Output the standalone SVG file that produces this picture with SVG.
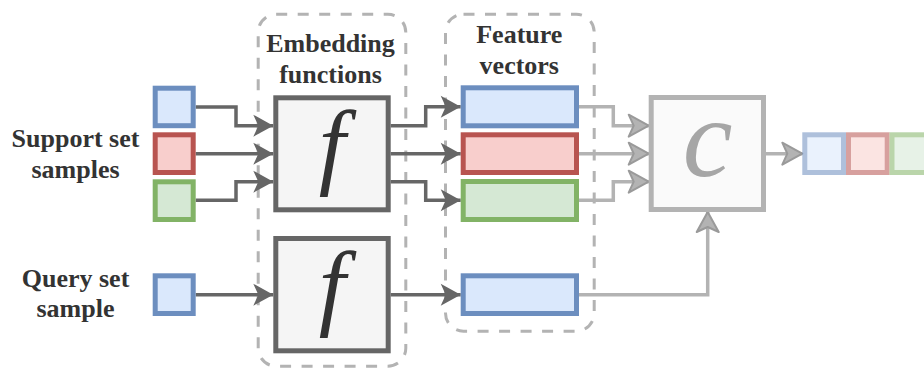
<svg xmlns="http://www.w3.org/2000/svg" width="924" height="370" viewBox="0 0 924 370">
<defs>
<marker id="ad" markerUnits="userSpaceOnUse" markerWidth="24" markerHeight="26" viewBox="-22 -12 24 24" refX="0" refY="0" orient="auto" overflow="visible">
<path d="M0,0 L-20,-11 L-15,0 L-20,11 Z" fill="#666" stroke="none"/>
</marker>
<marker id="al" markerUnits="userSpaceOnUse" markerWidth="24" markerHeight="26" viewBox="-22 -12 24 24" refX="0" refY="0" orient="auto" overflow="visible">
<path d="M0,0 L-20,-11 L-15,0 L-20,11 Z" fill="#b3b3b3" stroke="#9a9a9a" stroke-width="2" stroke-linejoin="round"/>
</marker>
</defs>
<rect width="924" height="370" fill="#fff"/>

<text x="75.5" y="146.5" font-size="26" font-family="Liberation Serif" font-weight="bold" fill="#333" text-anchor="middle">Support set</text>
<text x="75.5" y="177.5" font-size="26" font-family="Liberation Serif" font-weight="bold" fill="#333" text-anchor="middle">samples</text>
<text x="75.5" y="286.5" font-size="26" font-family="Liberation Serif" font-weight="bold" fill="#333" text-anchor="middle">Query set</text>
<text x="75.5" y="316.5" font-size="26" font-family="Liberation Serif" font-weight="bold" fill="#333" text-anchor="middle">sample</text>

<g id="group-embedding">
<rect x="258.2" y="14.2" width="147.6" height="352" rx="18" fill="none" stroke="#b3b3b3" stroke-width="3" stroke-dasharray="11 10.5"/>
<text x="330.5" y="51.5" font-size="26" font-family="Liberation Serif" font-weight="bold" fill="#333" text-anchor="middle">Embedding</text>
<text x="330.5" y="82.5" font-size="26" font-family="Liberation Serif" font-weight="bold" fill="#333" text-anchor="middle">functions</text>
</g>
<g id="group-features">
<rect x="445.5" y="14.2" width="148.7" height="317" rx="18" fill="none" stroke="#b3b3b3" stroke-width="3" stroke-dasharray="11 10.5"/>
<text x="519.3" y="42.7" font-size="26" font-family="Liberation Serif" font-weight="bold" fill="#333" text-anchor="middle">Feature</text>
<text x="519.3" y="73.5" font-size="26" font-family="Liberation Serif" font-weight="bold" fill="#333" text-anchor="middle">vectors</text>
</g>

<g id="connectors" fill="none" stroke-width="3.5">
<g stroke="#666" marker-end="url(#ad)">
<path d="M195.7,107 H236 V125.7 H273.3"/>
<path d="M195.7,153.7 H273.3"/>
<path d="M195.7,200.3 H236 V181.7 H273.3"/>
<path d="M195.7,294.7 H273.3"/>
<path d="M390.7,125.7 H425.7 V106.7 H460.7"/>
<path d="M390.7,153.7 H460.7"/>
<path d="M390.7,181.7 H425.7 V200.3 H460.7"/>
<path d="M390.7,294.7 H460.7"/>
</g>
<g stroke="#b3b3b3" marker-end="url(#al)">
<path d="M579,106.7 H613.3 V125.7 H648.7"/>
<path d="M579,153.7 H648.7"/>
<path d="M579,200.3 H613.3 V181.7 H648.7"/>
<path d="M579,294.7 H707.7 V212"/>
<path d="M766,153.7 H802.3"/>
</g>
</g>

<g id="support-blue"><rect x="155.2" y="88.2" width="38" height="37.5" fill="#dae8fc" stroke="#6c8ebf" stroke-width="5"/></g>
<g id="support-red"><rect x="155.2" y="134.8" width="38" height="37.7" fill="#f8cecc" stroke="#b85450" stroke-width="5"/></g>
<g id="support-green"><rect x="155.2" y="181.8" width="38" height="37.7" fill="#d5e8d4" stroke="#82b366" stroke-width="5"/></g>
<g id="query-blue"><rect x="155.2" y="275.8" width="38" height="37.7" fill="#dae8fc" stroke="#6c8ebf" stroke-width="5"/></g>

<g id="f-support">
<rect x="275.8" y="97.8" width="112.4" height="112" fill="#f5f5f5" stroke="#666" stroke-width="5"/>
<text x="332" y="177" font-size="96" font-family="Liberation Serif" font-style="italic" fill="#333" text-anchor="middle">f</text>
</g>
<g id="f-query">
<rect x="275.8" y="238.5" width="112.4" height="112.3" fill="#f5f5f5" stroke="#666" stroke-width="5"/>
<text x="332" y="317.7" font-size="96" font-family="Liberation Serif" font-style="italic" fill="#333" text-anchor="middle">f</text>
</g>

<g id="feat-blue"><rect x="463.2" y="87.8" width="113.3" height="38" fill="#dae8fc" stroke="#6c8ebf" stroke-width="5"/></g>
<g id="feat-red"><rect x="463.2" y="134.8" width="113.3" height="37.7" fill="#f8cecc" stroke="#b85450" stroke-width="5"/></g>
<g id="feat-green"><rect x="463.2" y="181.5" width="113.3" height="38" fill="#d5e8d4" stroke="#82b366" stroke-width="5"/></g>
<g id="feat-query"><rect x="463.2" y="275.8" width="113.3" height="37.7" fill="#dae8fc" stroke="#6c8ebf" stroke-width="5"/></g>

<g id="classifier">
<rect x="651.2" y="97.5" width="112.3" height="112" fill="#fafafa" stroke="#b3b3b3" stroke-width="5"/>
<text x="707.5" y="176" font-size="112" font-family="Liberation Serif" font-style="italic" fill="#a6a6a6" text-anchor="middle">c</text>
</g>

<g id="output" opacity="0.55" stroke-width="5">
<rect x="804.8" y="134.8" width="38.7" height="37.7" fill="#dae8fc" stroke="#6c8ebf"/>
<rect x="848.5" y="134.8" width="38.7" height="37.7" fill="#f8cecc" stroke="#b85450"/>
<rect x="892" y="134.8" width="38.7" height="37.7" fill="#d5e8d4" stroke="#82b366"/>
</g>
</svg>
